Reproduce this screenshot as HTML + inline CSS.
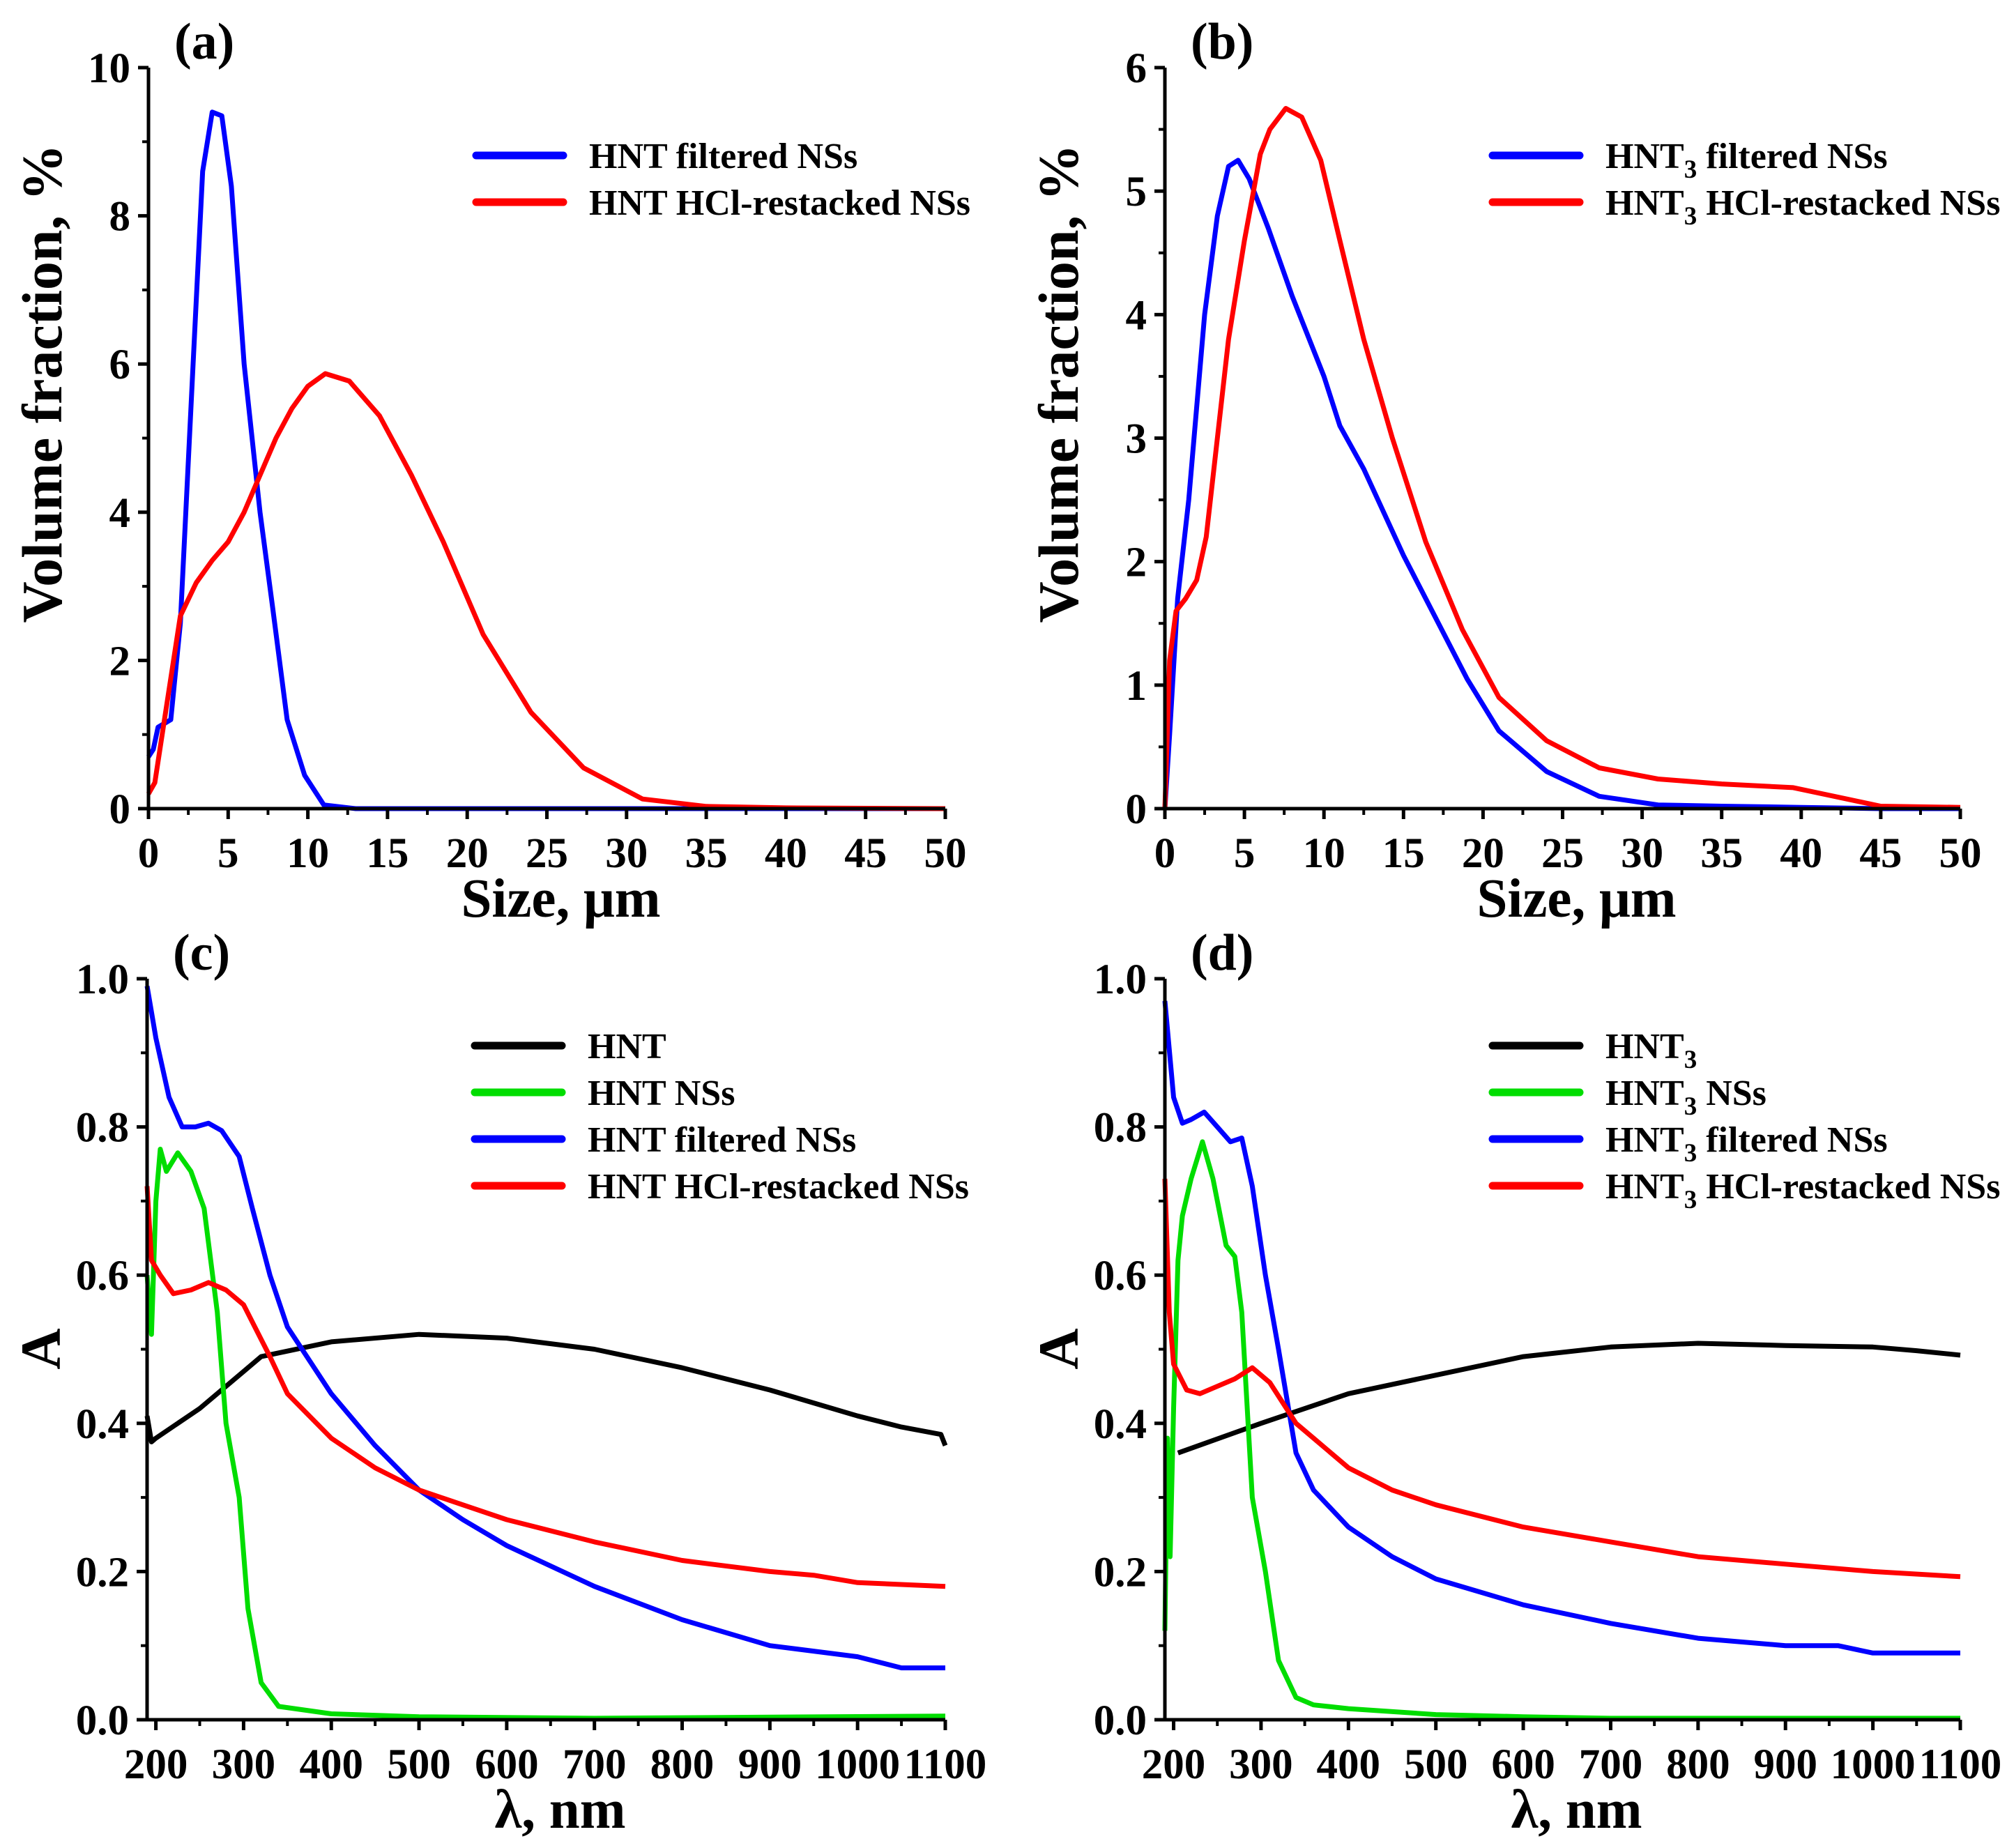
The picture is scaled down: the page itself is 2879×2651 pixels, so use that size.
<!DOCTYPE html>
<html><head><meta charset="utf-8"><style>
html,body{margin:0;padding:0;background:#fff;}
svg{display:block;font-family:"Liberation Serif",serif;font-weight:bold;}
</style></head><body>
<svg id="fig" width="2879" height="2651" viewBox="0 0 2879 2651" xmlns="http://www.w3.org/2000/svg"></svg>
<script>
// ---------- data ----------
const aBlueX=[0,0.3,0.6,1,1.4,2,2.8,3.4,4,4.6,5.2,6,7,7.8,8.7,9.8,11,13,50];
const aBlueY=[0.7,0.8,1.1,1.15,1.2,2.5,6,8.6,9.4,9.35,8.4,6,4,2.7,1.2,0.45,0.05,0,0];
const aRedX=[0,0.4,1,2,3,4,5,6,7,8,9,10,11.1,12.6,14.5,16.5,18.5,21,24,27.3,31,35,40,50];
const aRedY=[0.2,0.35,1.2,2.6,3.05,3.35,3.6,4.0,4.5,5.0,5.4,5.7,5.87,5.77,5.3,4.5,3.6,2.35,1.3,0.55,0.13,0.03,0.01,0];
const bBlueX=[0,0.3,0.8,1.5,2.5,3.3,4,4.6,5.3,6.5,8,10,11,12.5,15,17,19,21,24,27.3,31,35,40,45,50];
const bBlueY=[0,0.6,1.7,2.5,4,4.8,5.2,5.25,5.1,4.7,4.15,3.5,3.1,2.75,2.05,1.55,1.05,0.63,0.3,0.1,0.03,0.02,0.01,0,0];
const bRedX=[0,0.3,0.7,1.3,2,2.6,3.3,4,5,6,6.6,7.6,8.6,9.8,11,12.5,14.3,16.4,18.7,21,24,27.3,31,35,39.5,45,50];
const bRedY=[0,1.2,1.6,1.7,1.85,2.2,3,3.8,4.6,5.3,5.5,5.67,5.6,5.25,4.6,3.8,3.0,2.16,1.45,0.9,0.55,0.33,0.24,0.2,0.17,0.02,0.01];
const cBlackX=[190,195,200,250,300,320,400,500,600,700,800,900,1000,1050,1095,1100];
const cBlackY=[0.41,0.375,0.38,0.42,0.47,0.49,0.51,0.52,0.515,0.5,0.475,0.445,0.41,0.395,0.385,0.37];
const cGreenX=[190,195,200,205,212,225,240,255,270,280,295,305,320,340,400,500,700,1100];
const cGreenY=[0.6,0.52,0.7,0.77,0.74,0.765,0.74,0.69,0.55,0.4,0.3,0.15,0.05,0.018,0.008,0.004,0.002,0.005];
const cBlueX=[190,200,215,230,245,260,275,295,310,330,350,400,450,500,550,600,700,800,900,1000,1050,1100];
const cBlueY=[0.99,0.92,0.84,0.8,0.8,0.805,0.795,0.76,0.69,0.6,0.53,0.44,0.37,0.31,0.27,0.235,0.18,0.135,0.1,0.085,0.07,0.07];
const cRedX=[190,195,205,220,240,260,280,300,330,350,400,450,500,600,700,800,900,950,1000,1100];
const cRedY=[0.72,0.62,0.6,0.575,0.58,0.59,0.58,0.56,0.49,0.44,0.38,0.34,0.31,0.27,0.24,0.215,0.2,0.195,0.185,0.18];
const dBlackX=[205,300,400,500,600,700,800,900,1000,1050,1100];
const dBlackY=[0.36,0.4,0.44,0.465,0.49,0.503,0.508,0.505,0.503,0.498,0.492];
const dGreenX=[190,193,196,200,205,210,220,233,245,260,270,278,290,305,320,340,360,400,500,600,700,1100];
const dGreenY=[0.12,0.38,0.22,0.42,0.62,0.68,0.73,0.78,0.73,0.64,0.625,0.55,0.3,0.2,0.08,0.03,0.02,0.015,0.007,0.004,0.002,0.002];
const dBlueX=[190,200,210,220,235,250,265,278,290,305,320,340,360,400,450,500,600,700,800,900,960,1000,1100];
const dBlueY=[0.97,0.84,0.805,0.81,0.82,0.8,0.78,0.785,0.72,0.6,0.5,0.36,0.31,0.26,0.22,0.19,0.155,0.13,0.11,0.1,0.1,0.09,0.09];
const dRedX=[190,195,200,215,230,250,270,290,310,340,360,400,450,500,600,700,800,900,1000,1100];
const dRedY=[0.73,0.55,0.48,0.445,0.44,0.45,0.46,0.475,0.455,0.4,0.38,0.34,0.31,0.29,0.26,0.24,0.22,0.21,0.2,0.193];
const sizeTicks=[0,5,10,15,20,25,30,35,40,45,50];
const aYTicks=[0,2,4,6,8,10];
const bYTicks=[0,1,2,3,4,5,6];
const absTicksY=[0.0,0.2,0.4,0.6,0.8,1.0];
const lamTicks=[200,300,400,500,600,700,800,900,1000,1100];

const NS="http://www.w3.org/2000/svg";
const svg=document.getElementById('fig');
function mk(tag,attrs,parent){const e=document.createElementNS(NS,tag);for(const k in attrs)e.setAttribute(k,attrs[k]);(parent||svg).appendChild(e);return e;}

function panel(cfg){
  const g=mk('g',{});
  
  
  const L=cfg.left,R=cfg.right,T=cfg.top,B=cfg.bottom;
  const sx=v=>L+(v-cfg.xmin)/(cfg.xmax-cfg.xmin)*(R-L);
  const sy=v=>B-(v-cfg.ymin)/(cfg.ymax-cfg.ymin)*(B-T);
  cfg.series.forEach(s=>{
    const d=s.x.map((x,i)=>(i?'L':'M')+sx(x).toFixed(1)+','+sy(s.y[i]).toFixed(1)).join('');
    const p=mk('path',{d:d,fill:'none',stroke:s.color,'stroke-width':7,'stroke-linejoin':'round'},g);
    
    
  });
  const ax=mk('path',{d:`M${L},${T}L${L},${B}L${R},${B}`,fill:'none',stroke:'#000','stroke-width':5},g);
  
  
  cfg.xticks.forEach(v=>{
    mk('line',{x1:sx(v),x2:sx(v),y1:B,y2:B+15,stroke:'#000','stroke-width':5},g);
    const t=mk('text',{x:sx(v),y:B+84,'font-size':61,'text-anchor':'middle'},g);
    t.textContent=v;
    
    
  });
  cfg.xminor.forEach(v=>mk('line',{x1:sx(v),x2:sx(v),y1:B,y2:B+9,stroke:'#000','stroke-width':4},g));
  cfg.yticks.forEach(v=>{
    mk('line',{x1:L-15,x2:L,y1:sy(v),y2:sy(v),stroke:'#000','stroke-width':5},g);
    const t=mk('text',{x:L-26,y:sy(v)+21,'font-size':61,'text-anchor':'end'},g);
    t.textContent=cfg.yfmt(v);
    
    
  });
  cfg.yminor.forEach(v=>mk('line',{x1:L-9,x2:L,y1:sy(v),y2:sy(v),stroke:'#000','stroke-width':4},g));
  const xt=mk('text',{x:(L+R)/2+20,y:B+155,'font-size':79,'text-anchor':'middle'},g);
  xt.textContent=cfg.xtitle;
  
  
  const ytY=cfg.ytY;
  const yt=mk('text',{x:0,y:0,'font-size':82,'text-anchor':'middle',transform:`translate(${L-125},${ytY}) rotate(-90)`},g);
  yt.textContent=cfg.ytitle;
  
  
  const pl=mk('text',{x:L+37,y:T-13,'font-size':74},g);
  pl.textContent=cfg.label;
  
  
  cfg.series.forEach((s,i)=>{
    const ly=cfg.legTop+i*67;
    const ln=mk('line',{x1:L+470,x2:L+595,y1:ly,y2:ly,stroke:s.color,'stroke-width':11,'stroke-linecap':'round'},g);
    
    
    const t=mk('text',{x:L+632,y:ly+18,'font-size':52},g);
    t.innerHTML=s.label;
    
    
  });
}
const range=(a,b,s)=>{const r=[];for(let v=a;v<=b+1e-9;v+=s)r.push(+v.toFixed(4));return r;};
const sub='<tspan font-size="37" dy="14">3</tspan><tspan dy="-14"> </tspan>';
panel({name:'panel-a',label:'(a)',left:213,right:1356,top:97,bottom:1160,xmin:0,xmax:50,ymin:0,ymax:10,
  xticks:sizeTicks,xminor:range(2.5,47.5,5),yticks:aYTicks,yminor:range(1,9,2),yfmt:v=>v,
  xtitle:'Size, μm',ytitle:'Volume fraction, %',ytY:550,legTop:223,
  series:[{id:'hnt-filtered-line',x:aBlueX,y:aBlueY,color:'#0000ff',label:'HNT filtered NSs'},
          {id:'hnt-hcl-restacked-line',x:aRedX,y:aRedY,color:'#ff0000',label:'HNT HCl-restacked NSs'}]});
panel({name:'panel-b',label:'(b)',left:1671,right:2812,top:97,bottom:1160,xmin:0,xmax:50,ymin:0,ymax:6,
  xticks:sizeTicks,xminor:range(2.5,47.5,5),yticks:bYTicks,yminor:range(0.5,5.5,1),yfmt:v=>v,
  xtitle:'Size, μm',ytitle:'Volume fraction, %',ytY:550,legTop:223,
  series:[{id:'hnt3-filtered-line',x:bBlueX,y:bBlueY,color:'#0000ff',label:'HNT'+sub+'filtered NSs'},
          {id:'hnt3-hcl-restacked-line',x:bRedX,y:bRedY,color:'#ff0000',label:'HNT'+sub+'HCl-restacked NSs'}]});
panel({name:'panel-c',label:'(c)',left:211,right:1356,top:1404,bottom:2467,xmin:190,xmax:1100,ymin:0,ymax:1,
  xticks:lamTicks,xminor:range(250,1050,100),yticks:absTicksY,yminor:range(0.1,0.9,0.2),yfmt:v=>v.toFixed(1),
  xtitle:'λ, nm',ytitle:'A',ytY:1935,legTop:1500,
  series:[{id:'hnt-line',x:cBlackX,y:cBlackY,color:'#000000',label:'HNT'},
          {id:'hnt-ns-line',x:cGreenX,y:cGreenY,color:'#00dd00',label:'HNT NSs'},
          {id:'hnt-filtered-uv-line',x:cBlueX,y:cBlueY,color:'#0000ff',label:'HNT filtered NSs'},
          {id:'hnt-hcl-uv-line',x:cRedX,y:cRedY,color:'#ff0000',label:'HNT HCl-restacked NSs'}]});
panel({name:'panel-d',label:'(d)',left:1671,right:2812,top:1404,bottom:2467,xmin:190,xmax:1100,ymin:0,ymax:1,
  xticks:lamTicks,xminor:range(250,1050,100),yticks:absTicksY,yminor:range(0.1,0.9,0.2),yfmt:v=>v.toFixed(1),
  xtitle:'λ, nm',ytitle:'A',ytY:1935,legTop:1500,
  series:[{id:'hnt3-line',x:dBlackX,y:dBlackY,color:'#000000',label:'HNT<tspan font-size="37" dy="14">3</tspan>'},
          {id:'hnt3-ns-line',x:dGreenX,y:dGreenY,color:'#00dd00',label:'HNT'+sub+'NSs'},
          {id:'hnt3-filtered-uv-line',x:dBlueX,y:dBlueY,color:'#0000ff',label:'HNT'+sub+'filtered NSs'},
          {id:'hnt3-hcl-uv-line',x:dRedX,y:dRedY,color:'#ff0000',label:'HNT'+sub+'HCl-restacked NSs'}]});
</script>
</body></html>
